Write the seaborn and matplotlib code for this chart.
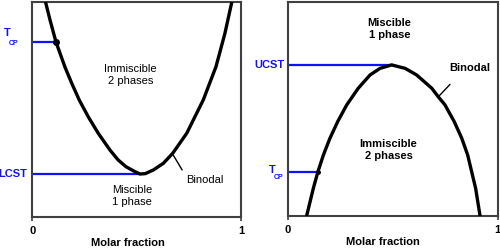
import matplotlib
matplotlib.use("Agg")
import matplotlib.pyplot as plt
import seaborn as sns
import pandas as pd

# ---- data ----
# Left panel: LCST-type binodal (U shape)
left_x = [0.061, 0.085, 0.113, 0.156, 0.189, 0.225, 0.268, 0.316, 0.372,
          0.412, 0.449, 0.492, 0.516, 0.542, 0.580, 0.628, 0.673, 0.740,
          0.819, 0.880, 0.923, 0.958]
left_y = [1.009, 0.916, 0.815, 0.698, 0.621, 0.543, 0.465, 0.388, 0.310,
          0.263, 0.232, 0.209, 0.198, 0.200, 0.217, 0.248, 0.295, 0.388,
          0.543, 0.698, 0.854, 1.009]
lcst_x, lcst_y = 0.516, 0.198
left_tcp_x, left_tcp_y = 0.113, 0.815

# Right panel: UCST-type binodal (inverted U)
right_x = [0.090, 0.122, 0.143, 0.170, 0.201, 0.238, 0.281, 0.336, 0.392,
           0.440, 0.495, 0.559, 0.614, 0.686, 0.717, 0.749, 0.793, 0.829,
           0.857, 0.876, 0.895, 0.916]
right_y = [0.0, 0.129, 0.204, 0.285, 0.363, 0.441, 0.519, 0.597, 0.659,
           0.690, 0.706, 0.690, 0.659, 0.597, 0.557, 0.519, 0.441, 0.363,
           0.285, 0.207, 0.129, 0.0]
ucst_x, ucst_y = 0.495, 0.706
right_tcp_x, right_tcp_y = 0.143, 0.204

x_ticks = [0, 1]
x_tick_labels = ["0", "1"]
x_label = "Molar fraction"
y_label = "T"

sns.set_theme(style="white")
plt.rcParams["font.family"] = ["Liberation Sans", "DejaVu Sans"]
plt.rcParams["text.color"] = "black"
plt.rcParams["axes.labelcolor"] = "black"
plt.rcParams["xtick.color"] = "black"

BLUE = "#1010ff"
SPINE = "#404040"

fig = plt.figure(figsize=(5, 2.5), dpi=100)
axL = fig.add_axes([0.0646, 0.134, 0.4174, 0.858])
axR = fig.add_axes([0.5754, 0.136, 0.420, 0.856])

dfL = pd.DataFrame({"x": left_x, "y": left_y})
dfR = pd.DataFrame({"x": right_x, "y": right_y})

for ax in (axL, axR):
    ax.set_xlim(0, 1)
    ax.set_ylim(0, 1)
    for s in ax.spines.values():
        s.set_visible(True)
        s.set_color(SPINE)
        s.set_linewidth(1.5)
    ax.set_xticks(x_ticks)
    ax.set_xticklabels(x_tick_labels, fontsize=8, fontweight="bold",
                       color="black")
    ax.set_yticks([])
    ax.tick_params(axis="x", direction="out", length=3, width=1.2,
                   color=SPINE, pad=3.5, bottom=True)

# ---- left panel ----
axL.plot([0, lcst_x], [lcst_y, lcst_y], color=BLUE, lw=1.6, zorder=2)
axL.plot([0, left_tcp_x], [left_tcp_y, left_tcp_y], color=BLUE, lw=1.6, zorder=2)
sns.lineplot(data=dfL, x="x", y="y", ax=axL, color="black", lw=2.4,
             sort=False, estimator=None, zorder=3,
             solid_joinstyle="round", solid_capstyle="round")
axL.plot([left_tcp_x], [left_tcp_y], "o", color="black", ms=4, zorder=4)
axL.set_xlabel(x_label, fontsize=8, fontweight="bold", color="black")
axL.set_ylabel(y_label, fontsize=8, fontweight="bold", color="black")
axL.xaxis.set_label_coords(0.459, -0.10)
axL.yaxis.set_label_coords(-0.069, 0.45)

axL.text(0.47, 0.66, "Immiscible\n2 phases", ha="center", va="center",
         fontsize=8, linespacing=1.3, color="black")
axL.text(0.478, 0.096, "Miscible\n1 phase", ha="center", va="center",
         fontsize=8, linespacing=1.3, color="black")
axL.text(0.827, 0.17, "Binodal", ha="center", va="center", fontsize=8,
         color="black")
axL.plot([0.673, 0.718], [0.290, 0.217], color="black", lw=1.0)

axL.text(-0.092, lcst_y, "LCST", ha="center", va="center", color=BLUE,
         fontsize=8, fontweight="bold", clip_on=False)
axL.text(-0.12, 0.854, "T", ha="center", va="center", color=BLUE,
         fontsize=8, fontweight="bold", clip_on=False)
axL.text(-0.088, 0.808, "CP", ha="center", va="center", color=BLUE,
         fontsize=5, fontweight="bold", clip_on=False)

# ---- right panel ----
axR.plot([0, ucst_x], [ucst_y, ucst_y], color=BLUE, lw=1.6, zorder=2)
axR.plot([0, right_tcp_x], [right_tcp_y, right_tcp_y], color=BLUE, lw=1.6, zorder=2)
sns.lineplot(data=dfR, x="x", y="y", ax=axR, color="black", lw=2.4,
             sort=False, estimator=None, zorder=3,
             solid_joinstyle="round", solid_capstyle="butt")
axR.plot([right_tcp_x], [right_tcp_y], "o", color="black", ms=2.5, zorder=4)
axR.set_xlabel(x_label, fontsize=8, fontweight="bold", color="black")
axR.set_ylabel(y_label, fontsize=8, fontweight="bold", color="black")
axR.xaxis.set_label_coords(0.454, -0.10)
axR.yaxis.set_label_coords(-0.084, 0.45)

axR.text(0.485, 0.874, "Miscible\n1 phase", ha="center", va="center",
         fontsize=8, fontweight="bold", linespacing=1.3, color="black")
axR.text(0.48, 0.308, "Immiscible\n2 phases", ha="center", va="center",
         fontsize=8, fontweight="bold", linespacing=1.3, color="black")
axR.text(0.868, 0.69, "Binodal", ha="center", va="center", fontsize=8,
         fontweight="bold", color="black")
axR.plot([0.717, 0.773], [0.557, 0.615], color="black", lw=1.0)

axR.text(-0.089, ucst_y, "UCST", ha="center", va="center", color=BLUE,
         fontsize=8, fontweight="bold", clip_on=False)
axR.text(-0.075, 0.215, "T", ha="center", va="center", color=BLUE,
         fontsize=8, fontweight="bold", clip_on=False)
axR.text(-0.043, 0.182, "CP", ha="center", va="center", color=BLUE,
         fontsize=5, fontweight="bold", clip_on=False)

fig.savefig("out.png", dpi=100)
